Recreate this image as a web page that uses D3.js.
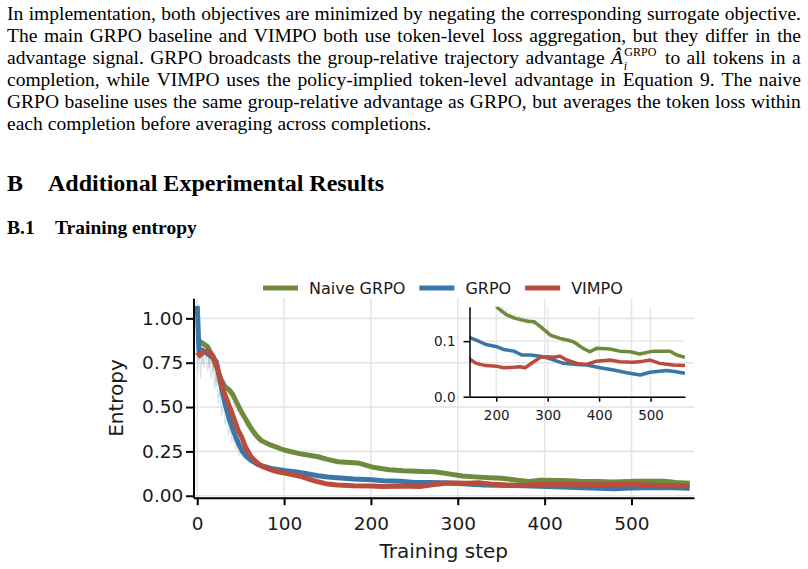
<!DOCTYPE html>
<html>
<head>
<meta charset="utf-8">
<script src="https://cdn.jsdelivr.net/npm/d3@7"></script>
<style>
  body { margin: 0; background: #fff; }
  svg { display: block; }
</style>
</head>
<body>
<div id="container"></div>
<script>
/* DATA */
// smoothed entropy curves
const naiveSteps = [0, 6, 12, 17, 22, 27, 32, 37, 41, 45, 50, 56, 62, 68, 74, 85, 100, 120, 139, 150, 162, 185, 199, 204, 221, 237, 260, 273, 286, 305, 324, 337, 350, 369, 382, 395, 421, 440, 460, 479, 505, 538, 551, 567];
const naiveVals  = [0.88, 0.86, 0.84, 0.79, 0.73, 0.66, 0.615, 0.596, 0.57, 0.53, 0.48, 0.43, 0.38, 0.34, 0.31, 0.285, 0.258, 0.235, 0.22, 0.205, 0.192, 0.185, 0.166, 0.159, 0.147, 0.141, 0.136, 0.135, 0.126, 0.111, 0.105, 0.102, 0.099, 0.087, 0.081, 0.087, 0.086, 0.082, 0.081, 0.077, 0.082, 0.082, 0.075, 0.071];

const grpoSteps = [0, 2, 6, 12, 18, 22, 27, 32, 37, 42, 47, 52, 57, 62, 70, 85, 100, 112, 125, 139, 150, 161, 180, 201, 214, 234, 250, 266, 286, 305, 331, 357, 376, 402, 428, 454, 480, 499, 531, 550, 567];
const grpoVals  = [1.07, 0.82, 0.82, 0.80, 0.78, 0.755, 0.63, 0.52, 0.43, 0.36, 0.30, 0.25, 0.22, 0.20, 0.175, 0.154, 0.142, 0.135, 0.125, 0.113, 0.106, 0.102, 0.094, 0.090, 0.085, 0.082, 0.075, 0.075, 0.073, 0.068, 0.060, 0.058, 0.057, 0.052, 0.048, 0.043, 0.039, 0.044, 0.047, 0.045, 0.042];

const vimpoSteps = [0, 3, 7, 12, 18, 22, 26, 31, 39, 47, 51, 56, 62, 68, 74, 84, 93, 105, 120, 135, 148, 161, 180, 200, 214, 234, 246, 256, 273, 286, 299, 312, 324, 337, 357, 376, 395, 421, 440, 466, 486, 499, 518, 544, 567];
const vimpoVals  = [0.81, 0.79, 0.81, 0.815, 0.79, 0.74, 0.67, 0.58, 0.48, 0.37, 0.333, 0.27, 0.22, 0.19, 0.167, 0.148, 0.135, 0.124, 0.108, 0.084, 0.068, 0.060, 0.056, 0.055, 0.052, 0.053, 0.054, 0.052, 0.063, 0.071, 0.072, 0.071, 0.073, 0.066, 0.060, 0.058, 0.064, 0.066, 0.063, 0.062, 0.064, 0.066, 0.060, 0.057, 0.056];

// faint raw traces, only where they are visible
const naiveRawSteps = [0, 2, 4, 6, 8, 10, 12, 14, 16, 18, 20, 22, 24, 26, 28, 30, 32, 34, 36, 38, 40, 42, 44, 46, 48, 50, 53, 56, 60, 64, 68, 72];
const naiveRawVals  = [0.89, 0.84, 0.88, 0.80, 0.86, 0.82, 0.85, 0.76, 0.83, 0.72, 0.79, 0.66, 0.74, 0.60, 0.68, 0.58, 0.64, 0.55, 0.61, 0.52, 0.58, 0.50, 0.54, 0.47, 0.50, 0.44, 0.45, 0.40, 0.37, 0.34, 0.32, 0.30];
const naiveRawLateSteps = [196, 200, 204, 208, 212, 216, 220, 224, 228, 232, 236, 240, 244, 248, 252, 256, 260, 264, 268, 272, 276, 280, 284, 288, 292, 296, 300, 310, 320, 330, 340, 350, 360, 370];
const naiveRawLateVals  = [0.17, 0.158, 0.168, 0.150, 0.163, 0.146, 0.158, 0.142, 0.152, 0.139, 0.150, 0.137, 0.146, 0.135, 0.144, 0.132, 0.142, 0.131, 0.140, 0.130, 0.138, 0.124, 0.132, 0.120, 0.127, 0.115, 0.121, 0.105, 0.110, 0.098, 0.106, 0.094, 0.098, 0.084];
const grpoRawSteps = [0, 1, 2, 4, 6, 8, 10, 12, 14, 16, 18, 20, 22, 24, 26, 28, 30, 32, 34, 36, 38, 40, 42, 44, 46, 48, 50, 53, 56, 60, 64, 68];
const grpoRawVals  = [1.07, 0.70, 0.88, 0.66, 0.84, 0.72, 0.82, 0.70, 0.79, 0.66, 0.74, 0.60, 0.70, 0.52, 0.62, 0.45, 0.54, 0.40, 0.46, 0.34, 0.40, 0.30, 0.34, 0.26, 0.29, 0.23, 0.25, 0.21, 0.22, 0.19, 0.19, 0.17];
const vimpoRawSteps = [0, 2, 4, 6, 8, 10, 12, 14, 16, 18, 20, 22, 24, 26, 28, 30, 32, 34, 36, 38, 40, 42, 44, 46, 48, 50, 53, 56, 60, 64, 68];
const vimpoRawVals  = [0.80, 0.76, 0.84, 0.74, 0.85, 0.78, 0.84, 0.72, 0.80, 0.70, 0.76, 0.62, 0.70, 0.56, 0.64, 0.52, 0.58, 0.46, 0.52, 0.42, 0.46, 0.36, 0.40, 0.32, 0.34, 0.28, 0.27, 0.23, 0.22, 0.19, 0.18];

const seriesNames = ["Naive GRPO", "GRPO", "VIMPO"];
const seriesColors = ["#6e8b3d", "#3a76a8", "#b94c3d"];

const xTicks = [0, 100, 200, 300, 400, 500];
const yTicks = [0, 0.25, 0.5, 0.75, 1.0];
const insetXTicks = [200, 300, 400, 500];
const insetYTicks = [0, 0.1];

// page text
const paraLines = [
  "In implementation, both objectives are minimized by negating the corresponding surrogate objective.",
  "The main GRPO baseline and VIMPO both use token-level loss aggregation, but they differ in the",
  "advantage signal. GRPO broadcasts the group-relative trajectory advantage $MATH to all tokens in a",
  "completion, while VIMPO uses the policy-implied token-level advantage in Equation 9. The naive",
  "GRPO baseline uses the same group-relative advantage as GRPO, but averages the token loss within",
  "each completion before averaging across completions."
];

/* CONSTANTS */
const W = 808, H = 569;
const serif = "'Liberation Serif', 'Times New Roman', serif";
const sans = "'DejaVu Sans', sans-serif";

const svg = d3.select("#container").append("svg")
  .attr("width", W).attr("height", H);
svg.append("rect").attr("width", W).attr("height", H).attr("fill", "#fff");

/* TEXT BLOCK */
const textG = svg.append("g").attr("font-family", serif).attr("fill", "#000");

// A-hat with sub/superscript, one text element with tspans
function drawMath(g, y) {
  const t = g.append("text").attr("y", y);
  t.append("tspan").attr("font-style", "italic").attr("font-size", 19.5).text("Â");
  const sub = t.append("tspan").attr("dx", 1).attr("dy", 6)
    .attr("font-style", "italic").attr("font-size", 12).text("i");
  const iw = sub.node().getComputedTextLength();
  t.append("tspan").attr("dx", -iw + 0.5).attr("dy", -14.5).attr("font-size", 12).text("GRPO");
  return t;
}

function drawLine(str, y, justify) {
  const g = textG.append("g").attr("font-size", 19.5);
  const items = str.split(" ").map(tok => tok === "$MATH" ? drawMath(g, y) : g.append("text").attr("y", y).text(tok));
  const widths = items.map(s => s.node().getBBox().width);
  const total = d3.sum(widths);
  const x0 = 7, x1 = 801;
  const gap = justify ? (x1 - x0 - total) / (items.length - 1) : 19.5 * 0.25;
  let x = x0;
  items.forEach((s, i) => {
    s.attr("transform", `translate(${x},0)`);
    x += widths[i] + gap;
  });
}

paraLines.forEach((line, i) => drawLine(line, 20 + i * 21.7 + (i >= 2 ? 1 : 0), i < paraLines.length - 1));

textG.append("text").attr("x", 7).attr("y", 191).attr("font-size", 24).attr("font-weight", "bold").text("B");
textG.append("text").attr("x", 48).attr("y", 191).attr("font-size", 24).attr("font-weight", "bold").text("Additional Experimental Results");
textG.append("text").attr("x", 7).attr("y", 234).attr("font-size", 19.5).attr("font-weight", "bold").text("B.1");
textG.append("text").attr("x", 55).attr("y", 234).attr("font-size", 19.5).attr("font-weight", "bold").text("Training entropy");

/* MAIN CHART */
const toPts = (xs, ys) => xs.map((s, i) => ({ step: s, val: ys[i] }));
const smooth = [toPts(naiveSteps, naiveVals), toPts(grpoSteps, grpoVals), toPts(vimpoSteps, vimpoVals)];
const raw = [
  [toPts(naiveRawSteps, naiveRawVals), toPts(naiveRawLateSteps, naiveRawLateVals)],
  [toPts(grpoRawSteps, grpoRawVals)],
  [toPts(vimpoRawSteps, vimpoRawVals)]
];

const xScale = d3.scaleLinear().domain([-4.3, 572]).range([193.5, 694]);
const yScale = d3.scaleLinear().domain([-0.011, 1.113]).range([497.7, 298.3]);

const chart = svg.append("g");

// grid
chart.append("g").selectAll("line").data(xTicks).join("line")
  .attr("x1", d => xScale(d)).attr("x2", d => xScale(d))
  .attr("y1", yScale.range()[0]).attr("y2", yScale.range()[1])
  .attr("stroke", "#e5e5e5").attr("stroke-width", 1.6);
chart.append("g").selectAll("line").data(yTicks).join("line")
  .attr("y1", d => yScale(d)).attr("y2", d => yScale(d))
  .attr("x1", xScale.range()[0]).attr("x2", xScale.range()[1])
  .attr("stroke", "#e5e5e5").attr("stroke-width", 1.6);

const line = d3.line().x(d => xScale(d.step)).y(d => yScale(d.val));

raw.forEach((segs, i) => {
  chart.append("g").selectAll("path").data(segs).join("path")
    .attr("d", line).attr("fill", "none")
    .attr("stroke", seriesColors[i]).attr("stroke-opacity", 0.2).attr("stroke-width", 1.2);
});
chart.append("g").selectAll("path").data(smooth).join("path")
  .attr("d", line).attr("fill", "none")
  .attr("stroke", (d, i) => seriesColors[i]).attr("stroke-width", 5)
  .attr("stroke-linejoin", "round");

// axes
const xAxis = chart.append("g")
  .attr("transform", `translate(0,${yScale.range()[0]})`)
  .call(d3.axisBottom(xScale).tickValues(xTicks).tickFormat(d3.format("d")).tickSize(7.5).tickSizeOuter(0).tickPadding(11.5));
const yAxis = chart.append("g")
  .attr("transform", `translate(${xScale.range()[0]},0)`)
  .call(d3.axisLeft(yScale).tickValues(yTicks).tickFormat(d3.format(".2f")).tickSize(7.5).tickSizeOuter(0).tickPadding(2.7));
[xAxis, yAxis].forEach(ax => {
  ax.selectAll("path, line").attr("stroke", "#000").attr("stroke-width", 2);
  ax.selectAll("text").attr("font-family", sans).attr("font-size", 18.5).attr("fill", "#1a1a1a");
});

chart.append("text")
  .attr("x", (xScale.range()[0] + xScale.range()[1]) / 2).attr("y", 558)
  .attr("text-anchor", "middle").attr("font-family", sans).attr("font-size", 20).attr("fill", "#1a1a1a")
  .text("Training step");
chart.append("text")
  .attr("transform", `translate(122.6,${(yScale.range()[0] + yScale.range()[1]) / 2}) rotate(-90)`)
  .attr("text-anchor", "middle").attr("font-family", sans).attr("font-size", 20).attr("fill", "#1a1a1a")
  .text("Entropy");

// legend
const legend = chart.append("g").attr("font-family", sans).attr("font-size", 16).attr("fill", "#1a1a1a");
let lx = 263;
seriesNames.forEach((name, i) => {
  legend.append("line").attr("x1", lx).attr("x2", lx + 35).attr("y1", 288).attr("y2", 288)
    .attr("stroke", seriesColors[i]).attr("stroke-width", 5);
  const t = legend.append("text").attr("x", lx + 46).attr("y", 288).attr("dy", "0.36em").text(name);
  lx += 46 + t.node().getComputedTextLength() + 14;
});

/* INSET */
const xIn = d3.scaleLinear().domain([148, 567]).range([469.5, 685]);
const yIn = d3.scaleLinear().domain([0, 0.162]).range([396.7, 306.7]);
const inset = svg.append("g");

svg.append("clipPath").attr("id", "insetClip").append("rect")
  .attr("x", xIn.range()[0]).attr("y", yIn.range()[1])
  .attr("width", xIn.range()[1] - xIn.range()[0]).attr("height", yIn.range()[0] - yIn.range()[1]);

inset.append("g").selectAll("line").data(insetXTicks).join("line")
  .attr("x1", d => xIn(d)).attr("x2", d => xIn(d))
  .attr("y1", yIn.range()[0]).attr("y2", yIn.range()[1])
  .attr("stroke", "#e5e5e5").attr("stroke-width", 1.4);
inset.append("g").selectAll("line").data(insetYTicks).join("line")
  .attr("y1", d => yIn(d)).attr("y2", d => yIn(d))
  .attr("x1", xIn.range()[0]).attr("x2", xIn.range()[1])
  .attr("stroke", "#e5e5e5").attr("stroke-width", 1.4);

const lineIn = d3.line().x(d => xIn(d.step)).y(d => yIn(d.val));
const clipped = inset.append("g").attr("clip-path", "url(#insetClip)");
raw.forEach((segs, i) => {
  clipped.append("g").selectAll("path").data(segs).join("path")
    .attr("d", lineIn).attr("fill", "none")
    .attr("stroke", seriesColors[i]).attr("stroke-opacity", 0.2).attr("stroke-width", 1);
});
clipped.append("g").selectAll("path").data(smooth).join("path")
  .attr("d", lineIn).attr("fill", "none")
  .attr("stroke", (d, i) => seriesColors[i]).attr("stroke-width", 3.5)
  .attr("stroke-linejoin", "round");

const xAxisIn = inset.append("g")
  .attr("transform", `translate(0,${yIn.range()[0]})`)
  .call(d3.axisBottom(xIn).tickValues(insetXTicks).tickFormat(d3.format("d")).tickSize(5).tickSizeOuter(0).tickPadding(9));
const yAxisIn = inset.append("g")
  .attr("transform", `translate(${xIn.range()[0]},0)`)
  .call(d3.axisLeft(yIn).tickValues(insetYTicks).tickFormat(d3.format(".1f")).tickSize(6).tickSizeOuter(0).tickPadding(8));
[xAxisIn, yAxisIn].forEach(ax => {
  ax.selectAll("path, line").attr("stroke", "#000").attr("stroke-width", 1.5);
  ax.selectAll("text").attr("font-family", sans).attr("font-size", 13.5).attr("fill", "#1a1a1a");
});
</script>
</body>
</html>
